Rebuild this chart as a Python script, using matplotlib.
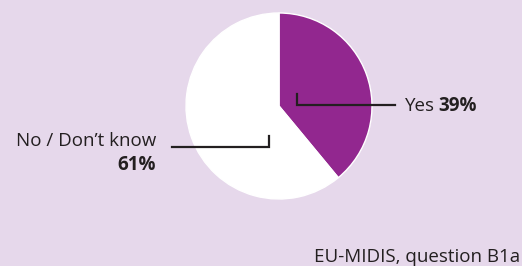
import matplotlib.pyplot as plt

labels = ['Yes', 'No / Don\u2019t know']
values = [39, 61]
colors = ['#92278F', '#FFFFFF']
bg = '#E6D8EB'
ink = '#231F20'

fig = plt.figure(figsize=(5.22, 2.66), dpi=100, facecolor=bg)
ax = fig.add_axes([0, 0, 1, 1])
ax.set_facecolor(bg)

ax.pie(values, colors=colors, startangle=90, counterclock=False,
       center=(279, 160), radius=93,
       wedgeprops=dict(edgecolor='white', linewidth=1))
ax.set_xlim(0, 522)
ax.set_ylim(0, 266)
ax.set_aspect('equal')
ax.axis('off')

# leader lines
ax.plot([297, 297, 395], [172, 161, 161], color=ink, lw=1.6, solid_joinstyle='miter')
ax.plot([172, 269, 269], [119, 119, 130], color=ink, lw=1.6, solid_joinstyle='miter')

font = 'Open Sans'
fs = 13.5
ax.text(405, 155, labels[0], fontsize=fs, family=font, va='baseline', ha='left', color=ink)
ax.text(438, 155, f'{values[0]}%', fontsize=fs, family=font, weight='bold',
        va='baseline', ha='left', color=ink)
ax.text(156, 120, labels[1], fontsize=fs, family=font, va='baseline', ha='right', color=ink)
ax.text(156, 96, f'{values[1]}%', fontsize=fs, family=font, weight='bold',
        va='baseline', ha='right', color=ink)
ax.text(520, 4, 'EU-MIDIS, question B1a', fontsize=fs, family=font,
        va='baseline', ha='right', color=ink)

fig.savefig('out.png', dpi=100, facecolor=bg)
